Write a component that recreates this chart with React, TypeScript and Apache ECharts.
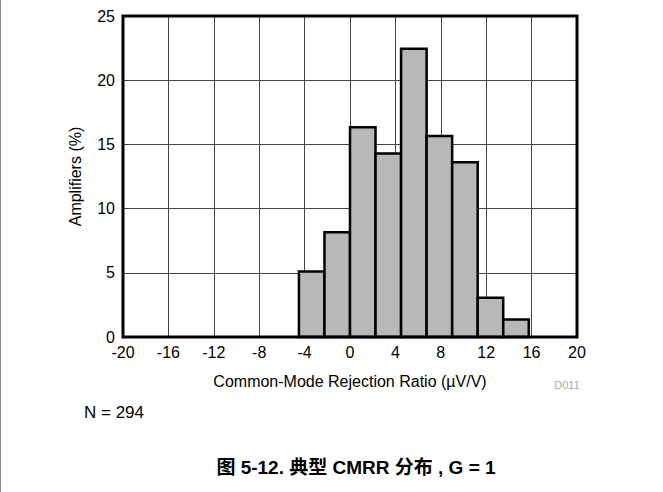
import React, { useEffect, useRef } from "react";
import * as echarts from "echarts";

// Histogram bins (µV/V) and share of amplifiers (%)
const binStarts = [-4.5, -2.25, 0, 2.25, 4.5, 6.75, 9, 11.25, 13.5];
const binEnds = [-2.25, 0, 2.25, 4.5, 6.75, 9, 11.25, 13.5, 15.75];
const percents = [5.1, 8.16, 16.33, 14.29, 22.45, 15.65, 13.61, 3.06, 1.36];

const xTicks = [-20, -16, -12, -8, -4, 0, 4, 8, 12, 16, 20];
const yTicks = [0, 5, 10, 15, 20, 25];

const xName = "Common-Mode Rejection Ratio (\u00b5V/V)";
const yName = "Amplifiers (%)";
const noteText = "N = 294";
const codeText = "D011";
const captionText = "图 5-12. 典型 CMRR 分布 , G = 1";

const FONT = "'Liberation Sans', Arial, Helvetica, sans-serif";

export default function App() {
  const ref = useRef<HTMLDivElement>(null);
  useEffect(() => {
    if (!ref.current) return;
    const chart = echarts.init(ref.current, null, { renderer: "svg" });
    const data = binStarts.map((s, i) => [s, binEnds[i], percents[i]]);
    chart.setOption({
      animation: false,
      backgroundColor: "#fff",
      grid: {
        left: 123,
        top: 16,
        width: 454,
        height: 321,
        show: false,
      },
      xAxis: {
        type: "value",
        min: xTicks[0],
        max: xTicks[xTicks.length - 1],
        interval: 4,
        name: xName,
        nameLocation: "middle",
        nameGap: 36,
        nameTextStyle: { fontFamily: FONT, fontSize: 16, color: "#000" },
        axisLine: { show: false },
        axisTick: { show: false },
        axisLabel: { fontFamily: FONT, fontSize: 16, color: "#000", margin: 7 },
        splitLine: { show: true, lineStyle: { color: "#444", width: 1 } },
      },
      yAxis: {
        type: "value",
        min: yTicks[0],
        max: yTicks[yTicks.length - 1],
        interval: 5,
        name: yName,
        nameLocation: "middle",
        nameGap: 40,
        nameTextStyle: { fontFamily: FONT, fontSize: 16, color: "#000" },
        axisLine: { show: false },
        axisTick: { show: false },
        axisLabel: { fontFamily: FONT, fontSize: 16, color: "#000", margin: 8 },
        splitLine: { show: true, lineStyle: { color: "#444", width: 1 } },
      },
      series: [
        {
          type: "custom",
          data,
          renderItem: (params: any, api: any) => {
            const p0 = api.coord([api.value(0), api.value(2)]);
            const p1 = api.coord([api.value(1), 0]);
            return {
              type: "rect",
              shape: { x: p0[0], y: p0[1], width: p1[0] - p0[0], height: p1[1] - p0[1] },
              style: { fill: "#b8b8b8", stroke: "#000", lineWidth: 2.5 },
            };
          },
          encode: { x: [0, 1], y: 2 },
          z: 3,
        },
      ],
      graphic: [
        {
          type: "rect",
          shape: { x: 123, y: 16, width: 454, height: 321 },
          style: { fill: "none", stroke: "#000", lineWidth: 3 },
          z: 10,
        },
        {
          type: "line",
          shape: { x1: 0.5, y1: 0, x2: 0.5, y2: 492 },
          style: { stroke: "#8a8a8a", lineWidth: 1 },
        },
        {
          type: "text",
          x: 567,
          y: 385,
          style: {
            text: codeText,
            fontFamily: FONT,
            fontSize: 11,
            fill: "#aaa",
            align: "center",
            verticalAlign: "middle",
          },
        },
        {
          type: "text",
          x: 84,
          y: 412,
          style: {
            text: noteText,
            fontFamily: FONT,
            fontSize: 17,
            fill: "#000",
            align: "left",
            verticalAlign: "middle",
          },
        },
        {
          type: "text",
          x: 356,
          y: 467,
          style: {
            text: captionText,
            fontFamily: "'Liberation Sans', 'Noto Sans CJK SC', sans-serif",
            fontSize: 19,
            fontWeight: "bold",
            fill: "#000",
            align: "center",
            verticalAlign: "middle",
          },
        },
      ],
    });
    return () => chart.dispose();
  }, []);
  return (
    <div
      ref={ref}
      style={{ position: "fixed", left: 0, top: 0, width: 663, height: 492 }}
    />
  );
}
